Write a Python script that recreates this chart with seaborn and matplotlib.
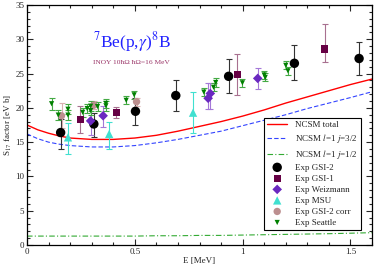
import numpy as np
import seaborn as sns
import matplotlib
matplotlib.use("Agg")
import matplotlib.pyplot as plt
from matplotlib.ticker import MultipleLocator

# NCSM curves
e_curve = [0.0, 0.05, 0.1, 0.15, 0.2, 0.3, 0.4, 0.5, 0.6, 0.7, 0.8, 0.9,
           1.0, 1.1, 1.2, 1.3, 1.4, 1.5, 1.6]
s_total = [17.5, 16.8, 16.3, 15.9, 15.6, 15.4, 15.4, 15.6, 16.0, 16.6, 17.3,
           18.0, 18.8, 19.7, 20.7, 21.6, 22.5, 23.4, 24.2]
s_j32 = [16.2, 15.5, 15.0, 14.7, 14.5, 14.3, 14.3, 14.5, 14.9, 15.4, 16.0,
         16.6, 17.4, 18.2, 19.0, 19.9, 20.7, 21.5, 22.35]
s_j12 = [1.3, 1.3, 1.3, 1.3, 1.3, 1.3, 1.3, 1.3, 1.35, 1.35, 1.4, 1.4,
         1.45, 1.5, 1.55, 1.6, 1.65, 1.72, 1.8]

# experiments: energy, S17, lower and upper error
gsi2_e = [0.156, 0.31, 0.503, 0.69, 0.935, 1.24, 1.54]
gsi2_s = [16.4, 17.65, 19.5, 21.8, 24.6, 26.5, 27.2]
gsi2_lo = [2.45, 1.85, 2.0, 2.2, 2.5, 2.5, 2.4]
gsi2_hi = [2.0, 1.55, 2.0, 2.2, 2.5, 2.7, 2.4]

gsi1_e = [0.248, 0.415, 0.975, 1.38]
gsi1_s = [18.3, 19.3, 24.9, 28.6]
gsi1_lo = [1.9, 0.8, 3.0, 1.9]
gsi1_hi = [1.9, 0.8, 2.9, 3.6]

weiz_e = [0.295, 0.353, 0.84, 0.85, 1.07]
weiz_s = [18.1, 18.85, 21.4, 22.1, 24.3]
weiz_lo = [2.1, 1.6, 1.5, 2.2, 1.5]
weiz_hi = [1.9, 1.45, 2.2, 1.5, 1.5]

msu_e = [0.19, 0.381, 0.77]
msu_s = [15.7, 16.2, 19.3]
msu_lo = [2.4, 2.2, 3.0]
msu_hi = [2.1, 1.8, 3.0]

corr_e = [0.16, 0.31, 0.508]
corr_s = [18.85, 20.4, 20.9]
corr_lo = [1.8, 0.6, 0.6]
corr_hi = [1.8, 0.6, 0.6]

seattle_e = [0.114, 0.145, 0.19, 0.19, 0.258, 0.279, 0.295, 0.295, 0.327,
             0.366, 0.366, 0.46, 0.497, 0.82, 0.865, 0.875, 0.999, 1.10,
             1.105, 1.20, 1.21]
seattle_s = [20.6, 18.95, 18.95, 19.8, 19.35, 19.9, 20.25, 19.6, 20.2,
             20.65, 20.3, 21.1, 21.9, 22.3, 23.0, 23.7, 23.65, 24.8, 24.45,
             26.2, 25.4]
seattle_err = [0.9, 0.7, 0.7, 0.7, 0.7, 0.7, 0.7, 0.7, 0.7, 0.7, 0.7, 0.6,
               0.6, 0.6, 0.6, 0.6, 0.6, 0.6, 0.6, 0.6, 0.6]


def main():
    sns.set_style("ticks")
    plt.rcParams['font.family'] = ['Liberation Serif', 'DejaVu Serif']
    plt.rcParams['mathtext.fontset'] = 'stix'

    fig = plt.figure(figsize=(3.74, 2.68), dpi=100)
    ax = fig.add_axes([0.0722, 0.0858, 0.9225, 0.8955])

    sns.lineplot(x=e_curve, y=s_total, color='red', lw=1.0, ax=ax,
                 label='NCSM total')
    sns.lineplot(x=e_curve, y=s_j32, color='#3344ff', lw=0.8, ax=ax,
                 linestyle=(0, (4, 2)), label='NCSM $l$=1 $j$=3/2')
    sns.lineplot(x=e_curve, y=s_j12, color='#33aa33', lw=0.8, ax=ax,
                 linestyle=(0, (5, 2, 1, 2)), label='NCSM $l$=1 $j$=1/2')

    sets = [
        (gsi2_e, gsi2_s, gsi2_lo, gsi2_hi, 'black', '#333333', 'o', 46, 'Exp GSI-2'),
        (gsi1_e, gsi1_s, gsi1_lo, gsi1_hi, '#660044', '#a87090', 's', 28, 'Exp GSI-1'),
        (weiz_e, weiz_s, weiz_lo, weiz_hi, '#6a28c0', '#a478d8', 'D', 24, 'Exp Weizmann'),
        (msu_e, msu_s, msu_lo, msu_hi, '#40e0d0', '#40e0d0', '^', 36, 'Exp MSU'),
        (corr_e, corr_s, corr_lo, corr_hi, '#bc8f8f', '#d8b0b0', 'o', 28, 'Exp GSI-2 corr'),
        (seattle_e, seattle_s, seattle_err, seattle_err, 'green', '#44aa44', 'v', 14, 'Exp Seattle'),
    ]
    for e, s, lo, hi, col, ecol, mk, size, lab in sets:
        ax.errorbar(e, s, yerr=[lo, hi], fmt='none', ecolor=ecol,
                    elinewidth=0.8, capsize=2.5, capthick=0.8, zorder=2)
    for e, s, lo, hi, col, ecol, mk, size, lab in sets:
        sns.scatterplot(x=e, y=s, color=col, marker=mk, s=size, ax=ax,
                        edgecolor='none', label=lab, zorder=3)

    ax.set_xlim(0, 1.6)
    ax.set_ylim(0, 35)
    ax.xaxis.set_major_locator(MultipleLocator(0.5))
    ax.xaxis.set_minor_locator(MultipleLocator(0.1))
    ax.yaxis.set_major_locator(MultipleLocator(5))
    ax.yaxis.set_minor_locator(MultipleLocator(1))
    ax.set_xticks([0, 0.5, 1, 1.5], labels=['0', '0.5', '1', '1.5'])
    ax.tick_params(which='both', direction='in', top=True, right=True,
                   labelsize=6.5, width=0.8, pad=2)
    ax.tick_params(which='major', length=4)
    ax.tick_params(which='minor', length=2)
    for sp in ax.spines.values():
        sp.set_linewidth(0.9)
        sp.set_color('black')

    ax.set_xlabel('E [MeV]', fontsize=6.5, labelpad=1)
    ax.set_ylabel('S$_{17}$ factor [eV b]', fontsize=6.5, labelpad=1)

    ax.text(0.305, 29.6, r'$^7$Be(p,$\gamma$)$^8$B', color='#2222ff',
            fontsize=12.5, va='center', ha='left')
    ax.text(0.305, 26.6, 'INOY 10ħΩ ħΩ=16 MeV', color='#993366',
            fontsize=5.4, va='center', ha='left')

    leg = ax.legend(loc='lower right', bbox_to_anchor=(0.968, 0.0625),
                    borderaxespad=0, fontsize=6.5, frameon=True,
                    fancybox=False, edgecolor='black', framealpha=1,
                    handlelength=2.2, labelspacing=0.3, borderpad=0.35,
                    handletextpad=0.9)
    leg.get_frame().set_linewidth(0.8)

    plt.savefig('out.png', dpi=100)


if __name__ == '__main__':
    main()
